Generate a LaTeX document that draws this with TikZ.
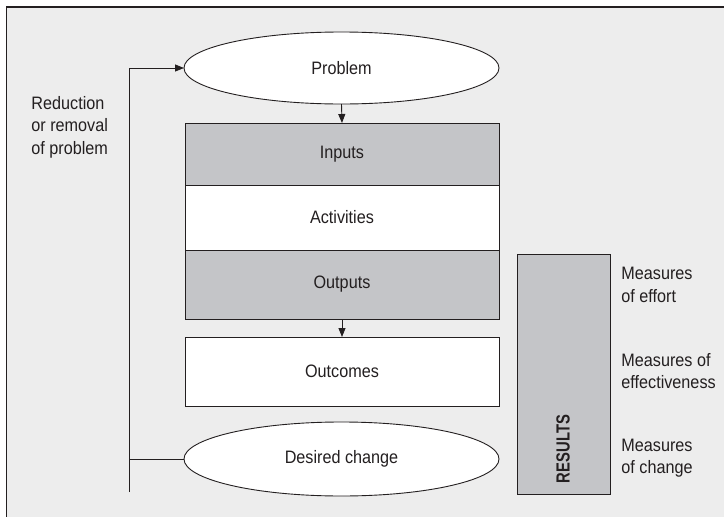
\documentclass[tikz,border=0pt]{standalone}
\usepackage{fontspec}
\setmainfont{Liberation Sans}[FakeStretch=0.9]
\newfontfamily\resultsfont{Liberation Sans}[FakeStretch=0.78]
\usetikzlibrary{positioning, arrows.meta, shapes.geometric}
\definecolor{bggrey}{HTML}{EDEDED}
\definecolor{boxgrey}{HTML}{C4C5C8}
\definecolor{ink}{HTML}{231F20}

\begin{document}
\begin{tikzpicture}[x=1pt,y=-1pt,font=\fontsize{18}{22.5}\selectfont,color=ink,line width=0.9pt,
  oval/.style={ellipse,draw,fill=white,minimum width=315pt,inner sep=0pt,outer sep=0pt},
  stage/.style={rectangle,draw,minimum width=314pt,inner sep=0pt,outer sep=0pt},
  measure/.style={align=left,inner sep=0pt,anchor=west},
  arrow/.style={-{Triangle[length=9pt,width=7pt]}}]

\useasboundingbox (0,0) rectangle (724,517);

% Background
\fill[bggrey] (6.5,7) rectangle (724,517);
\draw[line width=1.2pt] (6.5,517) |- (724,7);

% Define stages
\node[oval,minimum height=72pt] (problem) at (341.5,68) {Problem};
\node[stage,fill=boxgrey,minimum height=62pt] (inputs) at (342,154) {Inputs};
\node[stage,fill=white,minimum height=65pt,below=0pt of inputs] (activities) {Activities};
\node[stage,fill=boxgrey,minimum height=69pt,below=0pt of activities] (outputs) {Outputs};
\node[stage,fill=white,minimum height=69pt,below=18pt of outputs] (outcomes) {Outcomes};
\node[oval,minimum height=74pt] (desired_change) at (341.5,459) {Desired change};

% Results bar
\node[rectangle,draw,fill=boxgrey,minimum width=92.5pt,minimum height=240pt,inner sep=0pt] (results) at (563.75,374) {};
\node[rotate=90,inner sep=0pt] (results_label) at (563,449) {\resultsfont\fontsize{19}{22}\selectfont\bfseries RESULTS};

% Measures
\node[measure] (effort) at (621,285) {Measures\\of effort};
\node[measure] (effectiveness) at (621,371) {Measures of\\effectiveness};
\node[measure] (change) at (621,458) {Measures\\of change};
\node[measure] (reduction) at (31,127) {Reduction\\or removal\\of problem};

% Connectors
\coordinate (loop_end) at (129.3,492);
\draw[arrow] (problem.south) -- (inputs.north);
\draw[arrow] (outputs.south) -- (outcomes.north);
\draw[arrow] (loop_end) |- (problem.west);
\draw (desired_change.west) -- (desired_change.west -| loop_end);
\end{tikzpicture}
\end{document}
